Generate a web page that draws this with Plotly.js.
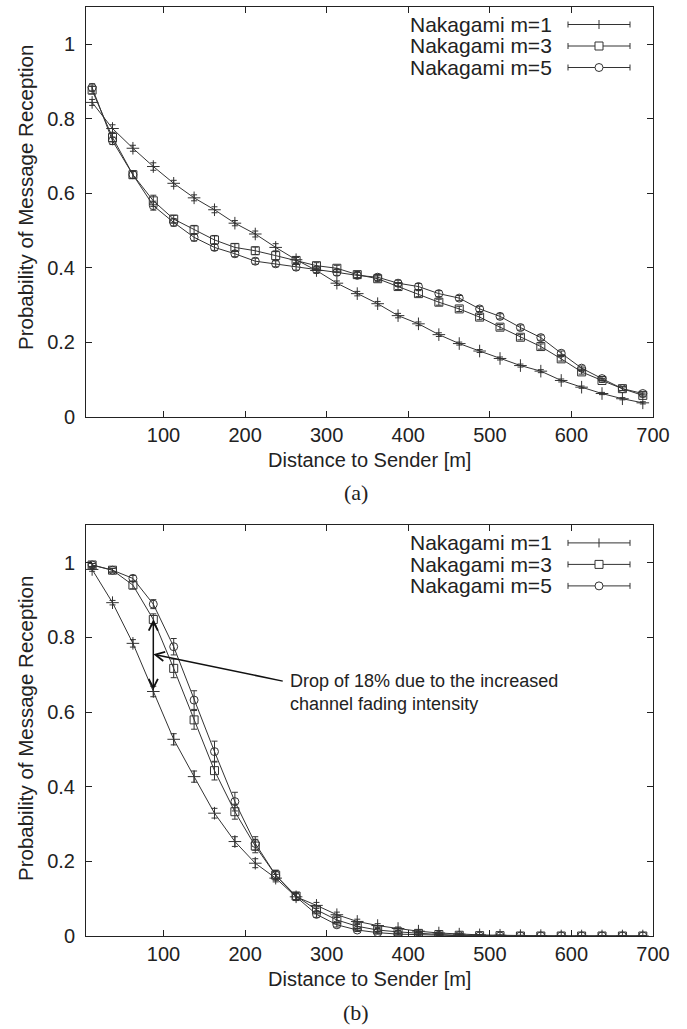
<!DOCTYPE html>
<html>
<head>
<meta charset="utf-8">
<script src="https://cdn.plot.ly/plotly-3.0.1.min.js"></script>
<style>html,body{margin:0;padding:0;background:#fff;}#chart{width:687px;height:1029px;}</style>
</head>
<body>
<div id="chart"></div>
<script>
// ---------- data ----------
const distance = [12.5, 37.5, 62.5, 87.5, 112.5, 137.5, 162.5, 187.5, 212.5, 237.5, 262.5, 287.5, 312.5, 337.5,
                  362.5, 387.5, 412.5, 437.5, 462.5, 487.5, 512.5, 537.5, 562.5, 587.5, 612.5, 637.5, 662.5, 687.5];
const seriesNames = ['Nakagami m=1', 'Nakagami m=3', 'Nakagami m=5'];

// panel (a)
const a_m1 = [0.844, 0.774, 0.721, 0.672, 0.627, 0.588, 0.556, 0.520, 0.491, 0.455, 0.422, 0.393, 0.359, 0.331,
              0.304, 0.272, 0.250, 0.221, 0.197, 0.177, 0.157, 0.138, 0.123, 0.098, 0.080, 0.063, 0.049, 0.038];
const a_m3 = [0.877, 0.750, 0.650, 0.580, 0.531, 0.502, 0.475, 0.455, 0.446, 0.433, 0.420, 0.406, 0.399, 0.382,
              0.371, 0.350, 0.331, 0.308, 0.290, 0.268, 0.241, 0.214, 0.189, 0.156, 0.121, 0.098, 0.076, 0.058];
const a_m5 = [0.884, 0.741, 0.650, 0.567, 0.522, 0.482, 0.455, 0.438, 0.418, 0.411, 0.402, 0.395, 0.388, 0.380,
              0.375, 0.359, 0.350, 0.331, 0.319, 0.290, 0.270, 0.240, 0.213, 0.171, 0.131, 0.103, 0.076, 0.063];
const a_err_m1 = [0.008, 0.010, 0.008, 0.010, 0.008, 0.008, 0.008, 0.007, 0.008, 0.010, 0.008, 0.007, 0.006, 0.006,
                  0.006, 0.006, 0.005, 0.005, 0.004, 0.004, 0.004, 0.004, 0.004, 0.004, 0.003, 0.003, 0.003, 0.003];
const a_err_m3 = [0.010, 0.012, 0.010, 0.015, 0.010, 0.012, 0.012, 0.010, 0.010, 0.012, 0.008, 0.008, 0.008, 0.008,
                  0.008, 0.008, 0.008, 0.008, 0.007, 0.007, 0.007, 0.007, 0.007, 0.006, 0.006, 0.005, 0.005, 0.004];
const a_err_m5 = [0.010, 0.010, 0.010, 0.012, 0.010, 0.010, 0.008, 0.008, 0.008, 0.008, 0.008, 0.008, 0.008, 0.008,
                  0.008, 0.008, 0.008, 0.008, 0.007, 0.007, 0.007, 0.007, 0.007, 0.006, 0.006, 0.005, 0.005, 0.004];

// panel (b)
const b_m1 = [0.982, 0.893, 0.784, 0.655, 0.527, 0.427, 0.329, 0.253, 0.195, 0.155, 0.105, 0.082, 0.057, 0.039,
              0.028, 0.020, 0.013, 0.008, 0.005, 0.003, 0.002, 0.001, 0.001, 0, 0, 0, 0, 0];
const b_m3 = [0.994, 0.980, 0.940, 0.848, 0.717, 0.579, 0.443, 0.333, 0.241, 0.163, 0.107, 0.070, 0.043, 0.026,
              0.016, 0.011, 0.007, 0.004, 0.002, 0.001, 0.001, 0, 0, 0, 0, 0, 0, 0];
const b_m5 = [0.994, 0.980, 0.958, 0.889, 0.775, 0.632, 0.494, 0.360, 0.248, 0.163, 0.105, 0.058, 0.030, 0.016,
              0.009, 0.005, 0.003, 0.002, 0.001, 0, 0, 0, 0, 0, 0, 0, 0, 0];
const b_err_m1 = [0.005, 0.006, 0.010, 0.014, 0.015, 0.015, 0.013, 0.013, 0.012, 0.010, 0.008, 0.008, 0.007, 0.006,
                  0.005, 0.004, 0.003, 0.002, 0.002, 0.001, 0.001, 0.001, 0, 0, 0, 0, 0, 0];
const b_err_m3 = [0.004, 0.005, 0.010, 0.015, 0.025, 0.025, 0.025, 0.020, 0.018, 0.013, 0.010, 0.008, 0.007, 0.005,
                  0.004, 0.003, 0.002, 0.002, 0.001, 0.001, 0, 0, 0, 0, 0, 0, 0, 0];
const b_err_m5 = [0.004, 0.005, 0.008, 0.012, 0.022, 0.025, 0.028, 0.025, 0.018, 0.013, 0.010, 0.008, 0.006, 0.004,
                  0.003, 0.002, 0.002, 0.001, 0.001, 0, 0, 0, 0, 0, 0, 0, 0, 0];

const xTickVals = [100, 200, 300, 400, 500, 600, 700];
const yTickVals = [0, 0.2, 0.4, 0.6, 0.8, 1];
const yTickText = ['0', '0.2', '0.4', '0.6', '0.8', '1'];
const xTitle = 'Distance to Sender [m]';
const yTitle = 'Probability of Message Reception';
const panelLabels = ['(a)', '(b)'];
const noteText = 'Drop of 18% due to the increased<br>channel fading intensity';

// ---------- layout helpers ----------
const W = 687, H = 1029;
const px = x => x / W;
const py = y => 1 - y / H;
const INK = '#222';
const SANS = 'Liberation Sans, Arial, Helvetica, sans-serif';
const SERIF = 'Liberation Serif, Times New Roman, serif';

const plotL = 86, plotR = 653;
const panels = [{top: 7, bottom: 417}, {top: 525.4, bottom: 936}];

const symbols = ['cross-thin-open', 'square-open', 'circle-open'];

function mkTraces(ys, errs, xa, ya) {
  return ys.map((y, i) => ({
    type: 'scatter', mode: 'lines+markers', x: distance, y: y,
    xaxis: xa, yaxis: ya, name: seriesNames[i], showlegend: false,
    line: {color: '#333', width: 1},
    marker: {symbol: symbols[i], size: i === 0 ? 9 : 8, color: '#333', line: {color: '#333', width: 1}},
    error_y: {type: 'data', array: errs[i], visible: true, thickness: 1, width: 3, color: '#333'},
    cliponaxis: true
  }));
}

const traces = [
  ...mkTraces([a_m1, a_m3, a_m5], [a_err_m1, a_err_m3, a_err_m5], 'x', 'y'),
  ...mkTraces([b_m1, b_m3, b_m5], [b_err_m1, b_err_m3, b_err_m5], 'x2', 'y2')
];

function xAxis(anchor) {
  return {
    domain: [px(plotL), px(plotR)], range: [5, 700], anchor: anchor,
    tickvals: xTickVals, ticktext: xTickVals.map(String),
    ticks: 'inside', ticklen: 6, tickcolor: INK, tickwidth: 1,
    showline: true, linecolor: INK, linewidth: 1, mirror: 'ticks',
    showgrid: false, zeroline: false,
    tickfont: {family: SANS, size: 20, color: INK}, ticklabelstandoff: 0
  };
}
function yAxis(p, anchor) {
  return {
    domain: [py(p.bottom), py(p.top)], range: [0, 1.1], anchor: anchor,
    tickvals: yTickVals, ticktext: yTickText,
    ticks: 'inside', ticklen: 6, tickcolor: INK, tickwidth: 1,
    showline: true, linecolor: INK, linewidth: 1, mirror: 'ticks',
    showgrid: false, zeroline: false,
    tickfont: {family: SANS, size: 20, color: INK}, ticklabelstandoff: 6
  };
}

const annotations = [];
const shapes = [];

panels.forEach((p, k) => {
  // axis titles and panel label
  annotations.push({xref: 'paper', yref: 'paper', x: px((plotL + plotR) / 2), y: py(p.bottom + 43),
    text: xTitle, showarrow: false, xanchor: 'center', yanchor: 'middle',
    font: {family: SANS, size: 20, color: INK}});
  annotations.push({xref: 'paper', yref: 'paper', x: px(356), y: py(p.bottom + 76),
    text: panelLabels[k], showarrow: false, xanchor: 'center', yanchor: 'middle',
    font: {family: SERIF, size: 22, color: INK}});
  annotations.push({xref: 'paper', yref: 'paper', x: px(25), y: py(k === 0 ? 198 : 729),
    text: yTitle, textangle: -90, showarrow: false, xanchor: 'center', yanchor: 'middle',
    font: {family: SANS, size: 20.5, color: INK}});
  // legend
  for (let i = 0; i < 3; i++) {
    const ry = p.top + 17.5 + 21.5 * i;
    annotations.push({xref: 'paper', yref: 'paper', x: px(554), y: py(ry),
      text: seriesNames[i], showarrow: false, xanchor: 'right', yanchor: 'middle',
      font: {family: SANS, size: 21, color: INK}});
    const L = {color: '#333', width: 1};
    shapes.push({type: 'line', xref: 'paper', yref: 'paper', x0: px(568), x1: px(630), y0: py(ry), y1: py(ry), line: L});
    shapes.push({type: 'line', xref: 'paper', yref: 'paper', x0: px(568), x1: px(568), y0: py(ry - 3), y1: py(ry + 3), line: L});
    shapes.push({type: 'line', xref: 'paper', yref: 'paper', x0: px(630), x1: px(630), y0: py(ry - 3), y1: py(ry + 3), line: L});
    if (i === 0) {
      shapes.push({type: 'line', xref: 'paper', yref: 'paper', x0: px(599), x1: px(599), y0: py(ry - 4.5), y1: py(ry + 4.5), line: L});
    } else if (i === 1) {
      shapes.push({type: 'rect', xref: 'paper', yref: 'paper', x0: px(595), x1: px(603), y0: py(ry - 4), y1: py(ry + 4), line: L, fillcolor: '#fff'});
    } else {
      shapes.push({type: 'circle', xref: 'paper', yref: 'paper', x0: px(595), x1: px(603), y0: py(ry - 4), y1: py(ry + 4), line: L, fillcolor: '#fff'});
    }
  }
});

// annotation in panel (b): double arrow between m=3 and m=1 at 87.5 m, pointer and note
annotations.push({xref: 'x2', yref: 'y2', axref: 'x2', ayref: 'y2',
  x: distance[3], y: b_m3[3], ax: distance[3], ay: b_m1[3],
  text: '', showarrow: true, arrowside: 'end+start', arrowhead: 5, startarrowhead: 5,
  arrowsize: 1.2, startarrowsize: 1.2, arrowwidth: 1.5, arrowcolor: '#111', standoff: 0, startstandoff: 0});
annotations.push({xref: 'x2', yref: 'y2', axref: 'x2', ayref: 'y2',
  x: distance[3], y: 0.755, ax: 248, ay: 0.682,
  text: '', showarrow: true, arrowhead: 5, arrowsize: 1.2, arrowwidth: 1.5, arrowcolor: '#111', standoff: 0});
annotations.push({xref: 'x2', yref: 'y2', x: 253, y: 0.653,
  text: noteText, showarrow: false, xanchor: 'left', yanchor: 'middle', align: 'left',
  font: {family: SANS, size: 18, color: INK}});

const layout = {
  width: W, height: H,
  margin: {l: 0, r: 0, t: 0, b: 0, pad: 0},
  paper_bgcolor: '#fff', plot_bgcolor: '#fff',
  showlegend: false,
  xaxis: xAxis('y'), yaxis: yAxis(panels[0], 'x'),
  xaxis2: xAxis('y2'), yaxis2: yAxis(panels[1], 'x2'),
  annotations: annotations, shapes: shapes
};

Plotly.newPlot('chart', traces, layout, {staticPlot: true, displayModeBar: false});
</script>
</body>
</html>
